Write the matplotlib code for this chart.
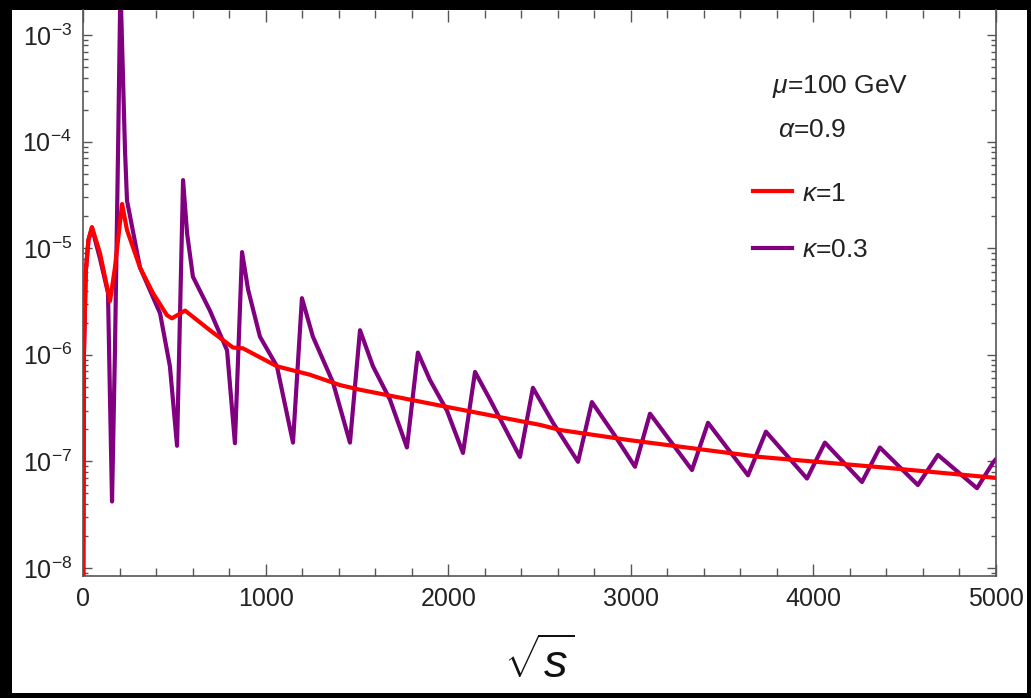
import matplotlib
matplotlib.use("Agg")
import matplotlib.pyplot as plt
from matplotlib.patches import Rectangle
from matplotlib.ticker import LogLocator, MultipleLocator, FixedLocator, NullFormatter

# values
x_k1 = [0, 5, 15, 30, 49, 93, 131, 148, 175, 214, 241, 312, 383, 460, 487, 559,
        695, 821, 876, 1062, 1243, 1407, 1517, 2010, 2503, 2612, 2995, 3707,
        4403, 5000]
y_k1 = [1e-9, 1e-6, 6e-6, 1.2e-5, 1.58e-5, 9e-6, 4.4e-6, 3.2e-6, 6.6e-6,
        2.6e-5, 1.48e-5, 6.6e-6, 3.8e-6, 2.35e-6, 2.2e-6, 2.6e-6, 1.7e-6,
        1.17e-6, 1.15e-6, 7.8e-7, 6.5e-7, 5.2e-7, 4.7e-7, 3.2e-7, 2.2e-7,
        1.97e-7, 1.58e-7, 1.1e-7, 8.7e-8, 7e-8]

x_k03 = [0, 5, 15, 30, 49, 93, 137, 148, 159, 175, 192, 205, 230, 241, 312,
         422, 476, 515, 548, 570, 602, 695, 789, 832, 871, 904, 969, 1062,
         1150, 1199, 1259, 1369, 1462, 1517, 1588, 1681, 1774, 1834, 1900,
         1993, 2081, 2147, 2229, 2393, 2464, 2574, 2711, 2787, 2902, 3023,
         3105, 3335, 3423, 3642, 3740, 3965, 4063, 4266, 4364, 4572, 4682,
         4896, 4983, 5000]
y_k03 = [1e-9, 1e-6, 6e-6, 1.2e-5, 1.55e-5, 8e-6, 3.8e-6, 3.8e-7, 4.2e-8,
         1.1e-6, 8.3e-5, 3e-3, 8.3e-5, 2.8e-5, 6.6e-6, 2.45e-6, 7.8e-7,
         1.4e-7, 4.36e-5, 1.38e-5, 5.4e-6, 2.6e-6, 1.1e-6, 1.48e-7, 9.2e-6,
         4.1e-6, 1.48e-6, 7.8e-7, 1.5e-7, 3.4e-6, 1.48e-6, 5.5e-7, 1.5e-7,
         1.7e-6, 7.8e-7, 3.8e-7, 1.35e-7, 1.05e-6, 5.8e-7, 3.0e-7, 1.2e-7,
         6.9e-7, 3.8e-7, 1.1e-7, 4.9e-7, 2.3e-7, 9.9e-8, 3.6e-7, 1.86e-7,
         8.9e-8, 2.8e-7, 8.3e-8, 2.3e-7, 7.4e-8, 1.9e-7, 6.9e-8, 1.5e-7,
         6.4e-8, 1.35e-7, 6.0e-8, 1.15e-7, 5.6e-8, 9.7e-8, 1.05e-7]

xticks = [0, 1000, 2000, 3000, 4000, 5000]
yticks = [1e-8, 1e-7, 1e-6, 1e-5, 1e-4, 1e-3]
ytick_labels = [r"$10^{-8}$", r"$10^{-7}$", r"$10^{-6}$", r"$10^{-5}$",
                r"$10^{-4}$", r"$10^{-3}$"]

plt.rcParams["font.family"] = ["Liberation Sans", "DejaVu Sans"]
plt.rcParams["mathtext.fontset"] = "custom"
plt.rcParams["mathtext.rm"] = "Liberation Sans"
plt.rcParams["mathtext.it"] = "Liberation Sans:italic"

W, H = 1031, 698
fig = plt.figure(figsize=(W / 100, H / 100), dpi=100, facecolor="black")
# white page inside the black frame
fig.patches.append(Rectangle((12 / W, 5 / H), (1027 - 12) / W, (688 - 5) / H,
                             transform=fig.transFigure, facecolor="white",
                             edgecolor="none", zorder=-10))

ax = fig.add_axes([83 / W, 1 - 576 / H, (996 - 83) / W, (576 - 10) / H])
ax.set_zorder(5)
ax.set_facecolor("white")

purple = "#800080"
red = "#ff0000"
l2, = ax.plot(x_k03, y_k03, color=purple, lw=3, solid_joinstyle="round", label=r"$\kappa$=0.3")
l1, = ax.plot(x_k1, y_k1, color=red, lw=3, solid_joinstyle="round", label=r"$\kappa$=1")

ax.set_yscale("log")
ax.set_xlim(0, 5000)
ax.set_ylim(8.4e-9, 1.72e-3)

ax.set_xticks(xticks)
ax.xaxis.set_minor_locator(MultipleLocator(200))
ax.yaxis.set_major_locator(FixedLocator(yticks))
ax.set_yticklabels(ytick_labels)
ax.yaxis.set_minor_locator(LogLocator(base=10, subs=range(2, 10)))
ax.yaxis.set_minor_formatter(NullFormatter())

spine_col = "#555555"
for s in ax.spines.values():
    s.set_color(spine_col)
    s.set_linewidth(1.2)
ax.spines["top"].set_visible(False)
ax.tick_params(which="both", direction="in", top=True, right=True,
               color=spine_col, width=1)
ax.tick_params(axis="x", which="major", length=8.5, labelsize=18, pad=8,
               labelcolor="#222222")
ax.tick_params(axis="x", which="minor", length=5.5)
ax.tick_params(axis="y", which="major", length=6.5, labelsize=18, pad=8,
               labelcolor="#222222")
ax.tick_params(axis="y", which="minor", length=3.5)

ax.set_xlabel(r"$\sqrt{s}$", fontsize=34, labelpad=21, color="#111111")

ax.text(840 / W, 1 - 86 / H, r"$\mu$=100 GeV", transform=fig.transFigure,
        ha="center", va="center", fontsize=19, color="#222222")
ax.text(812 / W, 1 - 130 / H, r"$\alpha$=0.9", transform=fig.transFigure,
        ha="center", va="center", fontsize=19, color="#222222")

ax.legend(handles=[l1, l2], loc="center left", frameon=False,
          bbox_to_anchor=(753 / W, 1 - 222 / H), bbox_transform=fig.transFigure,
          fontsize=19, borderpad=0, borderaxespad=0, handlelength=1.48,
          handletextpad=0.38, labelspacing=1.25, labelcolor="#222222")

fig.savefig("out.png", dpi=100, facecolor=fig.get_facecolor())
